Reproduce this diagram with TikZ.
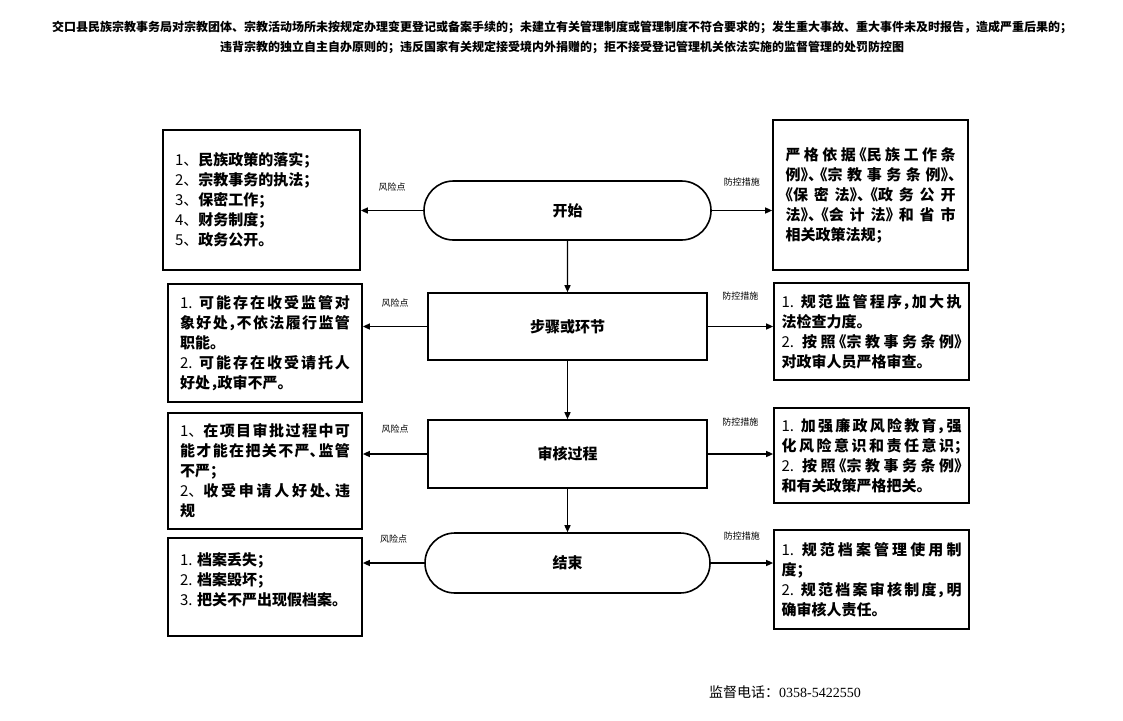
\documentclass[tikz,border=0pt]{standalone}
\usepackage{fontspec}
\usepackage{tikz}
\usetikzlibrary{arrows.meta,shapes.misc}
\setmainfont{Noto Sans CJK SC}
\newfontfamily\cjk{Noto Sans CJK SC}[RawFeature=+halt]
\newfontfamily\cjkfull{Noto Sans CJK SC}
\newfontfamily\telfont{Liberation Serif}
\XeTeXlinebreaklocale "zh"
\XeTeXlinebreakskip=0pt plus 5pt
\newcommand{\itemno}[1]{{\cjkfull\mdseries #1}}

\tikzset{
  riskbox/.style={draw,line width=1.7pt,minimum width=194pt,text width=170pt,
    align=justify,inner sep=0pt,font=\cjk\bfseries\fontsize{15}{20}\selectfont},
  ctrlbox/.style={riskbox,minimum width=195pt,text width=180pt},
  flowoval/.style={draw,line width=1.6pt,rounded rectangle,minimum width=287pt,
    minimum height=59pt,inner sep=0pt,font=\bfseries\fontsize{15}{18}\selectfont},
  flowrect/.style={flowoval,rectangle,minimum width=279pt,minimum height=67pt},
  flowline/.style={line width=1.4pt,-{Triangle[length=7pt,width=6pt]}},
  tag/.style={inner sep=0pt,font=\fontsize{9}{10}\selectfont}
}

\begin{document}
\begin{tikzpicture}[x=1pt,y=-1pt]
\useasboundingbox (0,0) rectangle (1123,720);

% title
\node[font=\bfseries\fontsize{12}{14}\selectfont] (title1) at (562,27)
  {交口县民族宗教事务局对宗教团体、宗教活动场所未按规定办理变更登记或备案手续的；未建立有关管理制度或管理制度不符合要求的；发生重大事故、重大事件未及时报告，造成严重后果的；};
\node[font=\bfseries\fontsize{12}{14}\selectfont] (title2) at (562,47)
  {违背宗教的独立自主自办原则的；违反国家有关规定接受境内外捐赠的；拒不接受登记管理机关依法实施的监督管理的处罚防控图};

% flow
\node[flowoval] (start) at (567.5,210.5) {开始};
\node[flowrect] (step) at (567.5,326.5) {步骤或环节};
\node[flowrect,minimum height=68pt] (audit) at (567.5,454) {审核过程};
\node[flowoval,minimum width=285pt,minimum height=60pt] (finish) at (567.5,563) {结束};

\draw[flowline] (start) -- (step);
\draw[flowline] (step) -- (audit);
\draw[flowline] (audit) -- (finish);

% risk points
\node[riskbox,minimum width=197pt,minimum height=140pt,text width=173pt] (risk1) at (261.5,200)
  {\itemno{1、}民族政策的落实；\\ \itemno{2、}宗教事务的执法；\\ \itemno{3、}保密工作；\\
   \itemno{4、}财务制度；\\ \itemno{5、}政务公开。};
\node[riskbox,minimum height=118pt] (risk2) at (265,343)
  {\itemno{1.} 可能存在收受监管对\linebreak 象好处，不依法履行监管\linebreak 职能。\\
   \itemno{2.} 可能存在收受请托人\linebreak 好处，政审不严。};
\node[riskbox,minimum height=116pt] (risk3) at (265,471)
  {\itemno{1、}在项目审批过程中可\linebreak 能才能在把关不严、监管\linebreak 不严；\\
   \itemno{2、}收受申请人好处、违\linebreak 规};
\node[riskbox,minimum height=98pt] (risk4) at (265,587)
  {\itemno{1.} 档案丢失；\\ \itemno{2.} 档案毁坏；\\ \itemno{3.} 把关不严出现假档案。\rule[-16pt]{0pt}{0pt}};

% control measures
\node[ctrlbox,minimum height=150pt,text width=170pt] (ctrl1) at (870.5,195)
  {严格依据《民族工作条\linebreak 例》、《宗教事务条例》、\linebreak 《保密法》、《政务公开\linebreak
   法》、《会计法》和省市\linebreak 相关政策法规；};
\node[ctrlbox,minimum height=97pt] (ctrl2) at (871.5,331.5)
  {\itemno{1.} 规范监管程序，加大执\linebreak 法检查力度。\\
   \itemno{2.} 按照《宗教事务条例》\linebreak 对政审人员严格审查。};
\node[ctrlbox,minimum height=95pt] (ctrl3) at (871.5,455.5)
  {\itemno{1.} 加强廉政风险教育，强\linebreak 化风险意识和责任意识；\linebreak
   \itemno{2.} 按照《宗教事务条例》\linebreak 和有关政策严格把关。};
\node[ctrlbox,minimum height=99pt] (ctrl4) at (871.5,579.5)
  {\itemno{1.} 规范档案管理使用制\linebreak 度；\\
   \itemno{2.} 规范档案审核制度，明\linebreak 确审核人责任。};

% side arrows
\draw[flowline] (start.west) -- (start.west -| risk1.east) node[tag,midway,above=19pt] (rtag1) {风险点};
\draw[flowline] (start.east) -- (start.east -| ctrl1.west) node[tag,midway,above=24pt] (ctag1) {防控措施};
\draw[flowline] (step.west) -- (step.west -| risk2.east) node[tag,midway,above=19pt] (rtag2) {风险点};
\draw[flowline] (step.east) -- (step.east -| ctrl2.west) node[tag,midway,above=26pt] (ctag2) {防控措施};
\draw[flowline] (audit.west) -- (audit.west -| risk3.east) node[tag,midway,above=20pt] (rtag3) {风险点};
\draw[flowline] (audit.east) -- (audit.east -| ctrl3.west) node[tag,midway,above=27pt] (ctag3) {防控措施};
\draw[flowline] (finish.west) -- (finish.west -| risk4.east) node[tag,midway,above=19pt] (rtag4) {风险点};
\draw[flowline] (finish.east) -- (finish.east -| ctrl4.west) node[tag,midway,above=22pt] (ctag4) {防控措施};

% phone
\node[font=\fontsize{14}{16}\selectfont] (phone) at (785,692) {监督电话：{\telfont 0358-5422550}};
\end{tikzpicture}
\end{document}
